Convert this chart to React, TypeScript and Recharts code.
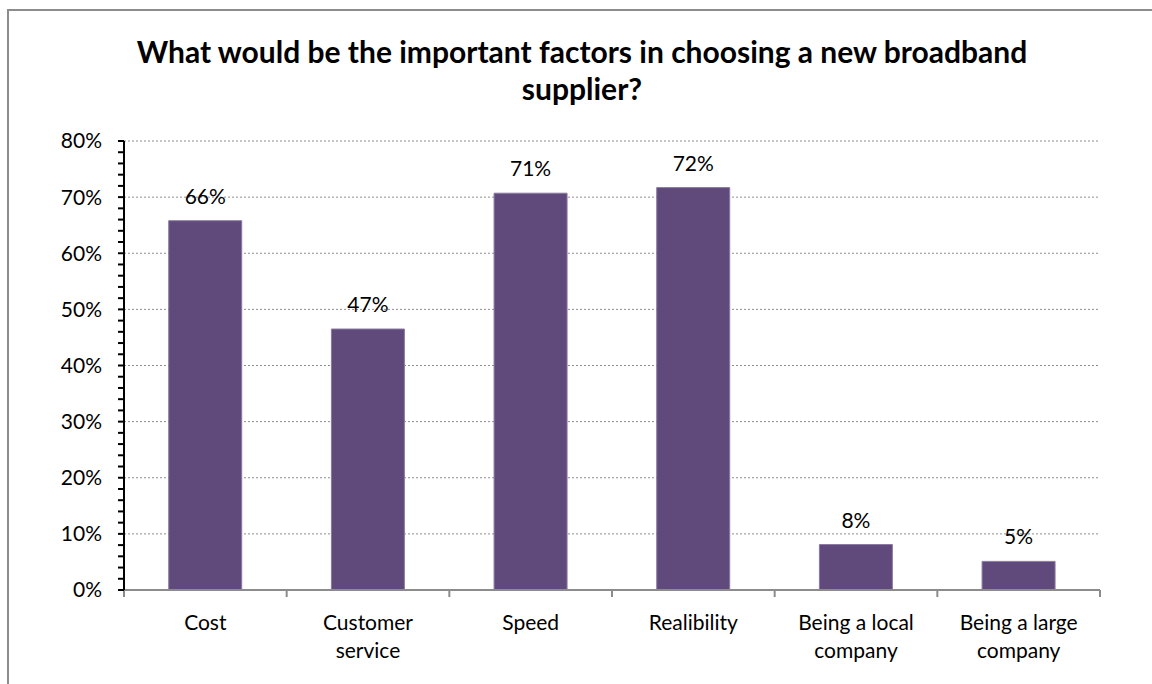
import React from 'react';
import { BarChart, Bar, XAxis, YAxis, CartesianGrid, LabelList } from 'recharts';

const categories = ['Cost', 'Customer service', 'Speed', 'Realibility', 'Being a local company', 'Being a large company'];
const shares = [0.658, 0.465, 0.707, 0.717, 0.081, 0.051];
const majorTicks = [0, 0.1, 0.2, 0.3, 0.4, 0.5, 0.6, 0.7, 0.8];
const minorTicks = [0, 0.02, 0.04, 0.06, 0.08, 0.1, 0.12, 0.14, 0.16, 0.18, 0.2, 0.22, 0.24, 0.26, 0.28, 0.3, 0.32, 0.34, 0.36, 0.38, 0.4, 0.42, 0.44, 0.46, 0.48, 0.5, 0.52, 0.54, 0.56, 0.58, 0.6, 0.62, 0.64, 0.66, 0.68, 0.7, 0.72, 0.74, 0.76, 0.78, 0.8];
const boundaryTicks = [0, 1, 2, 3, 4, 5, 6];

const data = categories.map((name, i) => ({ name, value: shares[i] }));

const FONT = 'Lato, "Open Sans", sans-serif';
const pct = (v: number) => `${Math.round(v * 100)}%`;

// long labels go on two lines, last word on the second one
function splitLabel(s: string) {
  if (s.length <= 12) return [s];
  const cut = s.lastIndexOf(' ');
  return [s.slice(0, cut), s.slice(cut + 1)];
}

function CategoryTick(props: any) {
  const { x, y, payload } = props;
  const lines = splitLabel(String(payload.value));
  return (
    <text x={x} y={y} textAnchor="middle" fontSize={21} fontFamily={FONT} fill="#000">
      {lines.map((line, i) => (
        <tspan key={i} x={x} dy={i === 0 ? 16 : 28}>
          {line}
        </tspan>
      ))}
    </text>
  );
}

export default function App() {
  return (
    <div style={{ position: 'absolute', left: 0, top: 0, width: 1152, height: 684, overflow: 'hidden', fontFamily: FONT, background: '#fff' }}>
      <div style={{ position: 'absolute', left: 7, top: 9, width: 1200, height: 760, border: '2px solid #8c8c8c', boxSizing: 'border-box' }} />
      <div style={{ position: 'absolute', left: 0, top: 33, width: 1164, textAlign: 'center', fontWeight: 700, fontSize: 30, lineHeight: '37px', color: '#000' }}>
        What would be the important factors in choosing a new broadband
        <br />
        supplier?
      </div>
      <div style={{ position: 'absolute', left: 0, top: 0 }}>
        <BarChart
          width={1152}
          height={684}
          data={data}
          margin={{ top: 141, right: 52, left: 64, bottom: 33 }}
          barCategoryGap="27.5%"
        >
          <CartesianGrid vertical={false} horizontalValues={majorTicks.slice(1)} stroke="#8e8e8e" strokeDasharray="2 2" />
          <XAxis
            xAxisId={0}
            type="number"
            dataKey={() => 0}
            domain={[0, 6]}
            ticks={boundaryTicks}
            height={1}
            tickFormatter={() => ''}
            tickSize={7}
            axisLine={{ stroke: '#8c8c8c', strokeWidth: 2 }}
            tickLine={{ stroke: '#8c8c8c', strokeWidth: 2 }}
          />
          <XAxis
            xAxisId={1}
            dataKey="name"
            height={60}
            axisLine={false}
            tickLine={false}
            tickSize={0}
            tickMargin={23}
            interval={0}
            tick={<CategoryTick />}
          />
          <YAxis
            width={60}
            domain={[0, 0.8]}
            ticks={minorTicks}
            interval={0}
            tickFormatter={(v: number) => (Math.round(v * 100) % 10 === 0 ? pct(v) : '')}
            tick={{ fontSize: 21, fill: '#000', fontFamily: FONT }}
            tickSize={6}
            tickMargin={16}
            axisLine={{ stroke: '#000', strokeWidth: 2 }}
            tickLine={{ stroke: '#000', strokeWidth: 2 }}
          />
          <Bar xAxisId={1} dataKey="value" fill="#604a7b" stroke="#8a7aa3" strokeWidth={1} isAnimationActive={false}>
            <LabelList dataKey="value" position="top" offset={17} formatter={(v: any) => pct(Number(v))} fontSize={21} fill="#000" fontFamily={FONT} />
          </Bar>
        </BarChart>
      </div>
    </div>
  );
}
